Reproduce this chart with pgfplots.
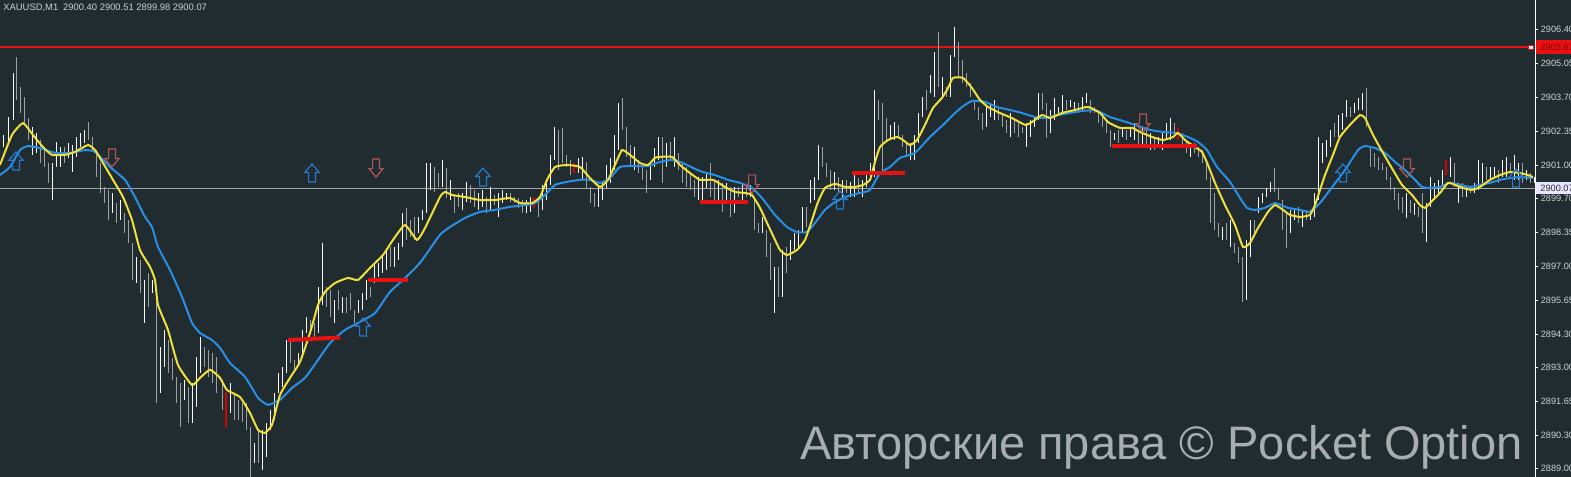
\documentclass[border=0pt]{standalone}
\usepackage{fontspec}
\setmainfont{Liberation Sans}
\usepackage{pgfplots}
\usepackage{pgfplotstable}
\pgfplotsset{compat=1.18}
\definecolor{bg}{RGB}{32,44,48}
\definecolor{maY}{RGB}{242,224,58}
\definecolor{maB}{RGB}{42,142,228}
\definecolor{barW}{RGB}{248,248,248}
\definecolor{barG}{RGB}{158,162,164}
\definecolor{lvl}{RGB}{232,18,18}
\definecolor{upA}{RGB}{40,122,205}
\definecolor{dnA}{RGB}{178,86,86}
\definecolor{tk}{RGB}{202,208,214}
\definecolor{wm}{RGB}{168,174,176}

\pgfdeclareplotmark{uparr}{%
  \pgfpathmoveto{\pgfpoint{-1.7pt}{-4.5pt}}%
  \pgfpathlineto{\pgfpoint{1.7pt}{-4.5pt}}%
  \pgfpathlineto{\pgfpoint{1.7pt}{0.3pt}}%
  \pgfpathlineto{\pgfpoint{3.6pt}{0.3pt}}%
  \pgfpathlineto{\pgfpoint{0pt}{4.5pt}}%
  \pgfpathlineto{\pgfpoint{-3.6pt}{0.3pt}}%
  \pgfpathlineto{\pgfpoint{-1.7pt}{0.3pt}}%
  \pgfpathclose
  \pgfusepathqstroke}
\pgfdeclareplotmark{dnarr}{%
  \pgfpathmoveto{\pgfpoint{-1.7pt}{4.5pt}}%
  \pgfpathlineto{\pgfpoint{1.7pt}{4.5pt}}%
  \pgfpathlineto{\pgfpoint{1.7pt}{-0.3pt}}%
  \pgfpathlineto{\pgfpoint{3.6pt}{-0.3pt}}%
  \pgfpathlineto{\pgfpoint{0pt}{-4.5pt}}%
  \pgfpathlineto{\pgfpoint{-3.6pt}{-0.3pt}}%
  \pgfpathlineto{\pgfpoint{-1.7pt}{-0.3pt}}%
  \pgfpathclose
  \pgfusepathqstroke}

\pgfplotstableread{
x l h c
3 2901.72 2902.20 1
8 2901.80 2902.91 1
13 2902.79 2904.66 1
16 2903.59 2905.29 0
20 2903.07 2904.10 0
24 2902.67 2903.71 0
28 2902.00 2902.87 0
32 2901.41 2902.52 1
36 2901.49 2902.28 1
40 2901.09 2902.00 0
44 2900.93 2901.60 0
48 2900.30 2901.09 0
52 2899.62 2901.09 1
56 2900.93 2901.92 1
60 2900.93 2901.72 1
64 2901.09 2901.72 0
68 2901.29 2901.88 1
72 2900.73 2901.80 1
76 2901.33 2902.12 1
80 2901.72 2902.28 1
84 2901.88 2902.40 1
88 2902.00 2902.71 0
92 2901.60 2902.12 0
96 2900.53 2901.60 0
100 2899.90 2901.09 0
104 2899.50 2900.14 0
108 2898.83 2900.02 0
112 2899.11 2899.90 1
116 2898.71 2899.50 0
120 2898.83 2899.62 1
124 2898.31 2899.11 0
128 2897.92 2898.83 0
132 2896.45 2897.92 0
136 2896.33 2897.36 1
140 2895.94 2897.25 0
144 2894.75 2896.45 1
148 2895.38 2896.73 0
152 2895.94 2896.45 1
156 2891.58 2896.06 0
160 2891.97 2893.80 1
164 2893.00 2894.47 1
168 2892.77 2894.07 0
172 2892.49 2893.36 0
176 2891.58 2892.61 0
180 2890.63 2892.37 0
184 2891.70 2892.49 1
188 2890.78 2892.21 0
192 2890.78 2892.37 1
196 2891.42 2893.40 1
200 2892.77 2894.19 1
204 2893.00 2893.80 0
208 2892.61 2893.68 0
212 2892.37 2893.56 0
216 2891.97 2893.40 0
222 2891.30 2892.49 0
230 2891.18 2892.37 1
234 2890.90 2891.97 0
238 2890.90 2891.70 0
242 2890.82 2891.58 0
246 2890.51 2891.58 0
250 2888.64 2890.63 0
254 2889.20 2889.99 1
258 2889.20 2890.51 0
262 2888.92 2890.51 1
266 2889.44 2890.78 1
270 2890.51 2891.30 1
274 2890.90 2891.97 1
278 2891.97 2892.77 1
282 2892.21 2893.00 1
286 2892.77 2894.07 1
290 2893.16 2894.15 0
294 2892.89 2893.28 0
298 2893.16 2893.56 1
302 2893.40 2894.47 1
306 2894.35 2894.99 1
310 2894.47 2894.87 0
314 2894.07 2894.75 0
318 2894.35 2896.17 1
322 2895.46 2897.92 1
326 2895.38 2896.17 0
330 2894.99 2896.06 0
334 2894.75 2895.66 1
338 2895.26 2896.06 0
342 2895.14 2895.78 1
346 2895.14 2895.78 0
350 2895.26 2895.94 0
354 2894.75 2895.26 0
358 2895.14 2895.66 1
362 2895.26 2895.94 1
366 2895.66 2896.45 1
370 2895.78 2896.17 0
374 2896.33 2897.13 1
378 2896.57 2897.13 1
382 2896.73 2897.36 1
386 2896.85 2897.64 1
390 2896.97 2897.76 0
394 2896.97 2897.76 1
398 2897.25 2897.92 1
402 2897.76 2899.11 1
406 2898.04 2899.31 0
410 2898.16 2898.83 0
414 2898.04 2898.95 0
418 2898.31 2898.95 1
422 2898.83 2899.23 1
426 2899.11 2901.09 1
430 2900.02 2901.09 1
434 2899.94 2900.93 0
438 2900.14 2900.69 0
442 2900.14 2901.21 1
446 2899.70 2900.89 0
450 2899.62 2900.42 1
454 2899.11 2899.82 0
458 2899.35 2899.90 0
462 2899.23 2899.90 1
466 2899.54 2900.34 1
470 2899.50 2900.22 0
474 2899.35 2900.02 0
478 2899.23 2899.90 1
482 2899.35 2900.02 1
486 2899.11 2899.74 0
490 2899.23 2900.14 1
494 2899.42 2899.82 0
498 2898.95 2899.90 1
502 2899.50 2900.02 1
506 2899.62 2899.90 1
510 2899.54 2899.90 0
514 2899.50 2899.74 0
518 2899.31 2899.70 0
522 2899.11 2899.62 0
526 2899.11 2899.62 1
530 2899.15 2899.74 1
538 2898.95 2899.70 0
542 2899.23 2900.22 1
546 2899.62 2900.34 1
550 2900.22 2901.41 1
554 2901.21 2902.52 1
558 2900.81 2902.40 0
562 2901.09 2902.48 0
566 2900.93 2901.41 0
570 2900.61 2901.21 0
578 2900.69 2901.29 1
582 2900.42 2901.33 1
586 2900.10 2901.13 0
590 2899.50 2900.14 0
594 2899.35 2899.90 0
598 2899.35 2900.22 1
602 2899.62 2900.34 1
606 2900.10 2901.01 1
610 2900.30 2901.29 1
614 2900.81 2902.20 1
618 2901.60 2903.47 1
622 2902.40 2903.67 0
626 2901.33 2902.52 0
630 2900.93 2901.80 0
634 2900.81 2901.72 1
638 2900.69 2901.21 0
642 2900.42 2900.93 0
646 2899.90 2900.81 0
650 2900.42 2901.09 1
654 2900.93 2901.68 1
658 2901.21 2902.12 1
662 2900.30 2902.12 0
666 2900.93 2901.88 1
670 2901.21 2901.92 0
674 2900.93 2902.12 1
678 2900.81 2901.49 0
682 2900.30 2901.09 0
686 2900.14 2900.93 0
690 2900.02 2900.69 0
694 2899.74 2900.42 0
698 2899.62 2900.53 1
702 2899.50 2900.53 1
706 2900.10 2900.73 1
710 2899.74 2901.09 0
714 2899.62 2900.42 0
718 2899.50 2900.42 1
722 2899.15 2900.30 0
726 2899.50 2900.30 1
730 2898.95 2900.14 0
734 2899.11 2900.14 1
738 2899.74 2900.14 0
742 2899.62 2900.22 1
746 2899.74 2900.14 0
750 2899.74 2900.22 1
754 2898.43 2899.74 0
758 2898.31 2898.71 0
762 2898.31 2898.95 1
766 2897.36 2898.43 0
770 2896.45 2897.92 0
774 2895.14 2896.97 1
778 2895.78 2896.97 0
782 2895.78 2897.64 1
786 2896.73 2897.76 0
790 2897.25 2898.04 1
794 2897.64 2898.31 1
798 2897.76 2898.43 1
802 2898.31 2899.35 1
806 2898.55 2899.35 0
810 2899.50 2900.42 1
814 2899.62 2900.53 1
818 2900.42 2901.80 1
822 2900.93 2901.72 0
826 2900.53 2901.09 0
830 2900.02 2900.81 0
834 2900.02 2900.73 1
838 2899.90 2900.53 0
842 2899.74 2900.42 1
846 2899.90 2900.42 0
850 2899.74 2900.34 1
854 2899.74 2900.73 1
858 2899.90 2900.49 0
862 2899.74 2900.42 1
866 2900.14 2900.73 1
870 2900.42 2901.09 1
874 2900.53 2903.98 1
878 2902.79 2903.59 0
882 2900.81 2903.47 0
886 2902.00 2902.87 0
890 2902.00 2902.60 1
894 2902.00 2902.71 1
898 2902.12 2902.60 0
902 2901.72 2902.20 0
906 2901.33 2901.92 0
910 2901.21 2901.88 1
914 2901.21 2902.20 1
918 2901.88 2903.07 1
922 2902.91 2903.71 1
926 2903.19 2903.98 0
930 2903.86 2904.58 1
934 2903.71 2905.49 1
938 2904.10 2906.28 0
942 2903.71 2904.50 1
946 2903.71 2904.10 0
950 2903.71 2905.37 1
954 2905.29 2906.48 1
958 2904.50 2905.89 0
962 2904.26 2905.17 0
966 2904.10 2904.66 0
970 2903.71 2904.26 0
974 2903.19 2903.59 0
978 2902.79 2903.31 0
982 2902.40 2903.07 0
986 2902.52 2903.31 1
990 2902.91 2903.47 1
994 2902.79 2903.59 1
998 2902.79 2903.31 0
1002 2902.52 2903.07 0
1006 2902.28 2902.79 0
1010 2902.12 2903.07 1
1014 2902.28 2902.79 0
1018 2902.12 2902.67 0
1022 2902.28 2902.52 0
1026 2901.72 2902.67 1
1030 2902.12 2902.79 1
1034 2902.52 2902.91 1
1038 2902.79 2903.86 1
1042 2903.19 2903.86 0
1046 2902.08 2903.47 0
1050 2902.28 2903.19 1
1054 2902.79 2903.67 1
1058 2903.07 2903.31 1
1062 2903.07 2903.78 1
1066 2903.19 2903.59 0
1070 2903.31 2903.59 1
1074 2903.19 2903.51 1
1078 2903.07 2903.47 0
1082 2903.19 2903.71 1
1086 2903.47 2903.86 1
1090 2903.07 2903.59 0
1094 2903.07 2903.31 0
1098 2902.67 2903.19 0
1102 2902.52 2903.07 0
1106 2902.28 2902.79 0
1110 2901.72 2902.40 0
1114 2902.00 2902.28 1
1118 2901.88 2902.40 0
1122 2902.12 2902.52 1
1126 2902.00 2902.40 0
1130 2902.12 2902.52 1
1134 2902.00 2902.67 1
1138 2901.72 2902.40 0
1142 2901.72 2902.52 1
1146 2901.72 2902.40 0
1150 2901.60 2902.28 1
1154 2901.60 2902.12 0
1158 2901.72 2902.12 1
1162 2901.60 2902.28 1
1166 2902.00 2902.67 1
1170 2902.00 2902.87 1
1174 2902.12 2902.67 0
1182 2901.72 2902.28 0
1186 2901.49 2902.00 0
1190 2901.33 2901.88 1
1194 2901.49 2901.88 0
1198 2901.33 2901.72 0
1202 2901.09 2901.60 0
1206 2900.42 2901.09 0
1210 2898.71 2900.53 0
1214 2898.43 2899.90 0
1218 2898.16 2898.71 0
1222 2898.04 2898.55 1
1226 2898.04 2898.71 0
1230 2897.76 2898.83 1
1234 2897.52 2897.92 0
1238 2897.13 2897.76 0
1242 2895.58 2897.36 0
1246 2895.66 2898.04 1
1250 2897.36 2898.83 1
1254 2898.31 2898.83 0
1258 2899.11 2899.74 1
1262 2899.50 2899.90 1
1266 2899.74 2900.10 1
1270 2899.94 2900.34 1
1274 2899.94 2900.89 0
1278 2899.62 2900.10 0
1282 2898.43 2899.62 0
1286 2897.72 2899.11 0
1290 2898.31 2899.23 1
1294 2898.83 2899.23 1
1298 2898.71 2899.35 0
1302 2898.55 2899.23 1
1306 2898.83 2899.23 0
1310 2898.83 2899.23 1
1314 2898.95 2899.90 1
1318 2899.62 2902.12 1
1322 2901.09 2901.88 1
1326 2901.33 2902.00 1
1330 2901.72 2902.40 1
1334 2902.12 2902.67 0
1338 2902.12 2902.99 1
1342 2902.40 2903.07 1
1346 2902.91 2903.59 1
1350 2902.91 2903.31 0
1354 2903.07 2903.47 1
1358 2903.19 2903.67 1
1362 2903.19 2903.86 1
1366 2902.52 2904.06 0
1370 2900.93 2901.72 0
1374 2900.93 2901.49 0
1378 2900.81 2901.33 0
1382 2900.81 2901.09 0
1386 2900.42 2900.93 0
1390 2900.02 2900.53 0
1394 2899.62 2900.14 0
1398 2899.23 2899.90 0
1402 2899.11 2899.74 0
1406 2898.91 2899.90 1
1410 2899.11 2899.62 0
1414 2899.03 2899.50 1
1418 2898.95 2899.35 0
1422 2898.31 2899.90 0
1426 2897.96 2899.50 1
1430 2899.35 2900.53 1
1434 2899.62 2900.30 1
1438 2899.90 2900.42 1
1442 2900.14 2900.81 1
1450 2900.53 2901.33 1
1454 2900.14 2901.09 0
1458 2899.50 2900.30 1
1462 2899.74 2900.30 0
1466 2899.74 2900.14 1
1470 2899.90 2900.14 0
1474 2899.90 2900.30 1
1478 2900.02 2901.21 1
1482 2900.30 2901.09 1
1486 2900.42 2900.93 0
1490 2900.42 2900.93 1
1494 2900.53 2900.93 1
1498 2900.30 2900.81 0
1502 2900.53 2901.21 1
1506 2900.53 2901.33 1
1510 2900.69 2901.09 0
1514 2900.42 2901.41 1
1518 2900.42 2901.09 1
1522 2900.30 2901.09 0
1526 2900.42 2900.81 1
1530 2900.30 2900.69 0
1534 2900.30 2900.53 1
}\bars

\pgfplotstableread{
x l h
226 2890.63 2892.01
534 2899.31 2899.74
574 2900.69 2901.09
1178 2902.00 2902.52
1446 2900.61 2901.21
}\redbars

\pgfplotstableread{
x y
0 2901.01
12 2902.20
23 2902.67
33 2902.20
43 2901.72
52 2901.41
65 2901.41
75 2901.53
88 2901.80
95 2901.60
103 2901.09
113 2900.42
123 2899.74
132 2898.83
140 2897.64
150 2896.97
155 2896.45
158 2895.46
168 2894.47
178 2893.08
192 2892.29
200 2892.57
210 2892.89
220 2892.57
227 2892.09
240 2891.81
250 2891.18
258 2890.51
265 2890.39
272 2890.71
280 2891.89
290 2892.57
300 2893.20
310 2894.35
318 2895.46
325 2895.98
335 2896.33
348 2896.53
358 2896.45
370 2896.93
383 2897.44
393 2898.04
405 2898.63
417 2898.04
425 2898.51
440 2899.74
445 2899.94
452 2899.82
465 2899.74
480 2899.62
495 2899.62
510 2899.70
520 2899.50
532 2899.50
540 2899.74
547 2900.42
555 2900.93
567 2901.01
580 2900.93
590 2900.49
600 2900.14
608 2900.42
615 2901.01
622 2901.60
630 2901.41
640 2901.09
648 2901.01
655 2901.29
660 2901.33
672 2901.33
680 2901.01
690 2900.69
700 2900.42
713 2900.42
725 2900.14
735 2899.94
745 2899.90
752 2899.82
760 2899.31
768 2898.63
775 2898.04
780 2897.64
787 2897.44
797 2897.64
805 2898.04
812 2898.83
818 2899.54
825 2900.10
835 2900.26
845 2900.14
855 2900.14
863 2900.22
870 2900.42
875 2901.13
880 2901.72
888 2902.00
897 2902.12
903 2902.00
910 2901.80
917 2902.00
925 2902.60
933 2903.27
942 2903.67
948 2904.06
953 2904.46
963 2904.46
972 2904.06
980 2903.59
988 2903.31
1000 2903.07
1012 2902.87
1025 2902.60
1032 2902.71
1042 2902.99
1050 2902.87
1062 2903.07
1075 2903.19
1088 2903.31
1100 2903.07
1108 2902.71
1120 2902.48
1132 2902.48
1140 2902.32
1152 2902.12
1163 2902.00
1173 2902.12
1178 2902.28
1185 2902.00
1195 2901.72
1202 2901.53
1208 2901.01
1215 2900.30
1225 2899.42
1235 2898.63
1243 2897.76
1250 2897.92
1258 2898.51
1268 2899.15
1275 2899.42
1283 2899.23
1290 2899.03
1300 2898.95
1310 2899.03
1315 2899.42
1320 2900.02
1325 2900.61
1333 2901.41
1340 2902.12
1350 2902.60
1360 2902.99
1365 2902.87
1373 2902.20
1383 2901.49
1393 2900.81
1402 2900.22
1412 2899.82
1420 2899.42
1425 2899.31
1433 2899.62
1440 2899.90
1448 2900.30
1455 2900.22
1463 2900.10
1472 2900.02
1480 2900.14
1490 2900.42
1500 2900.61
1510 2900.73
1520 2900.69
1528 2900.61
1533 2900.53
}\maYellow

\pgfplotstableread{
x y
0 2900.61
10 2900.93
20 2901.60
28 2901.76
40 2901.68
55 2901.49
70 2901.49
85 2901.60
95 2901.53
110 2900.93
125 2900.42
135 2899.74
145 2898.95
152 2898.55
158 2897.76
170 2896.85
182 2895.78
192 2894.75
200 2894.35
212 2894.07
220 2893.76
230 2893.16
245 2892.61
258 2891.78
268 2891.50
280 2891.70
292 2892.17
305 2892.57
318 2893.28
330 2893.95
345 2894.47
360 2894.79
375 2895.14
390 2895.98
403 2896.45
420 2897.13
440 2898.24
450 2898.55
465 2898.91
480 2899.15
495 2899.23
510 2899.35
525 2899.42
535 2899.50
545 2899.82
555 2900.22
567 2900.34
580 2900.42
590 2900.42
600 2900.30
610 2900.49
620 2900.93
633 2900.97
648 2900.97
660 2901.13
672 2901.21
683 2901.09
693 2900.89
703 2900.73
715 2900.61
728 2900.42
740 2900.30
752 2900.10
762 2899.70
775 2899.03
787 2898.55
797 2898.35
807 2898.35
815 2898.71
825 2899.23
835 2899.54
848 2899.78
860 2899.90
870 2900.02
880 2900.69
890 2900.93
900 2901.29
915 2901.49
930 2902.12
945 2902.67
953 2902.99
962 2903.31
972 2903.55
985 2903.51
997 2903.31
1010 2903.19
1022 2903.07
1035 2902.91
1045 2902.87
1058 2902.99
1070 2903.07
1082 2903.15
1095 2903.19
1100 2903.11
1110 2902.91
1120 2902.79
1135 2902.60
1150 2902.40
1163 2902.32
1175 2902.28
1188 2902.12
1198 2901.92
1207 2901.60
1217 2900.93
1230 2900.34
1240 2899.70
1247 2899.31
1255 2899.23
1265 2899.31
1275 2899.50
1288 2899.31
1300 2899.23
1310 2899.15
1320 2899.50
1330 2900.02
1345 2900.81
1358 2901.60
1365 2901.76
1375 2901.68
1385 2901.49
1395 2901.13
1405 2900.81
1415 2900.42
1422 2900.14
1430 2900.10
1440 2900.14
1450 2900.30
1460 2900.22
1470 2900.14
1480 2900.22
1490 2900.30
1500 2900.42
1510 2900.49
1520 2900.53
1533 2900.49
}\maBlue

\begin{document}
\begin{tikzpicture}
\fill[bg] (0,0) rectangle (785.5pt,238.5pt);
\begin{axis}[
  at={(0,0)}, anchor=south west,
  scale only axis, width=767.5pt, height=238.5pt,
  xmin=0, xmax=1535, ymin=2888.64, ymax=2907.55,
  axis x line=none, axis y line*=right,
  y axis line style={draw=white, line width=0.5pt, -},
  ytick={2889.00,2890.30,2891.65,2893.00,2894.30,2895.65,2897.00,2898.35,2899.70,2901.00,2902.35,2903.70,2905.05,2906.40},
  yticklabels={2889.00,2890.30,2891.65,2893.00,2894.30,2895.65,2897.00,2898.35,2899.70,2901.00,2902.35,2903.70,2905.05,2906.40},
  tick align=outside, major tick length=1.5pt,
  ytick style={draw=white, line width=0.4pt},
  yticklabel style={font=\fontsize{4.6pt}{5pt}\selectfont, text=tk, anchor=west, inner sep=0pt, xshift=1.2pt},
  clip=true,
  barstyle/.style={only marks, mark=*, mark size=0pt, mark options={draw=none, fill=none}},
]
% price lines
\addplot[draw=gray!70, line width=0.4pt] coordinates {(0,2900.07) (1535,2900.07)};
\addplot[draw=lvl, line width=1pt] coordinates {(0,2905.67) (1531,2905.67)};
% bars
\addplot[barstyle, restrict expr to domain={\thisrow{c}}{-0.5:0.5},
  error bars/.cd, y dir=plus, y explicit, error mark=none,
  error bar style={draw=barG, line width=0.5pt, solid}]
  table[x=x, y=l, y error expr=\thisrow{h}-\thisrow{l}] {\bars};
\addplot[barstyle, restrict expr to domain={\thisrow{c}}{0.5:1.5},
  error bars/.cd, y dir=plus, y explicit, error mark=none,
  error bar style={draw=barW, line width=0.5pt, solid}]
  table[x=x, y=l, y error expr=\thisrow{h}-\thisrow{l}] {\bars};
\addplot[barstyle,
  error bars/.cd, y dir=plus, y explicit, error mark=none,
  error bar style={draw=red!85!black, line width=0.6pt, solid}]
  table[x=x, y=l, y error expr=\thisrow{h}-\thisrow{l}] {\redbars};
% moving averages
\addplot[draw=maB, line width=1pt, smooth, tension=0.3] table[x=x,y=y] {\maBlue};
\addplot[draw=maY, line width=1pt, smooth, tension=0.3] table[x=x,y=y] {\maYellow};
% level segments
\addplot[draw=lvl, line width=2pt] coordinates {(288,2894.07) (340,2894.17)};
\addplot[draw=lvl, line width=2pt] coordinates {(368,2896.45) (408,2896.45)};
\addplot[draw=lvl, line width=2pt] coordinates {(700,2899.54) (748,2899.54)};
\addplot[draw=lvl, line width=2pt] coordinates {(852,2900.69) (905,2900.69)};
\addplot[draw=lvl, line width=2pt] coordinates {(1112,2901.76) (1197,2901.76)};
% arrows
\addplot[only marks, mark=uparr, mark options={draw=upA, line width=0.6pt}] coordinates {
 (16,2901.17) (312,2900.69) (363,2894.59) (483,2900.53) (840,2899.62) (1343,2900.69) (1516,2900.49)};
\addplot[only marks, mark=dnarr, mark options={draw=dnA, line width=0.6pt}] coordinates {
 (112,2901.29) (376,2900.89) (752,2900.26) (1143,2902.67) (1407,2900.89)};
\addplot[only marks, mark=square*, mark size=1.2pt, mark options={fill=white, draw=lvl, line width=0.5pt}] coordinates {(1531,2905.67)};
\end{axis}
% labels on right price scale
\fill[lvl] (768pt,211.5pt) rectangle (785.5pt,218.5pt);
\node[anchor=west, inner sep=0pt, font=\fontsize{4.6pt}{5pt}\selectfont, text=red!55!black] at (770pt,215pt) {2905.67};
\fill[white!90!blue] (768pt,141.5pt) rectangle (785.5pt,147.5pt);
\node[anchor=west, inner sep=0pt, font=\fontsize{4.6pt}{5pt}\selectfont, text=black!80] at (770pt,144.5pt) {2900.07};
% title
\node[anchor=base west, inner sep=0pt, font=\fontsize{4.7pt}{5pt}\selectfont, text=tk] at (1.5pt,233pt) {XAUUSD,M1\hspace{2.5pt}2900.40 2900.51 2899.98 2900.07};
% watermark
\node[anchor=base west, inner sep=0pt, font=\fontsize{23.5pt}{25pt}\selectfont, text=wm] at (400pt,8.5pt) {Авторские права © Pocket Option};
\pgfresetboundingbox
\path[use as bounding box] (0,0) rectangle (785.5pt,238.5pt);
\end{tikzpicture}
\end{document}
